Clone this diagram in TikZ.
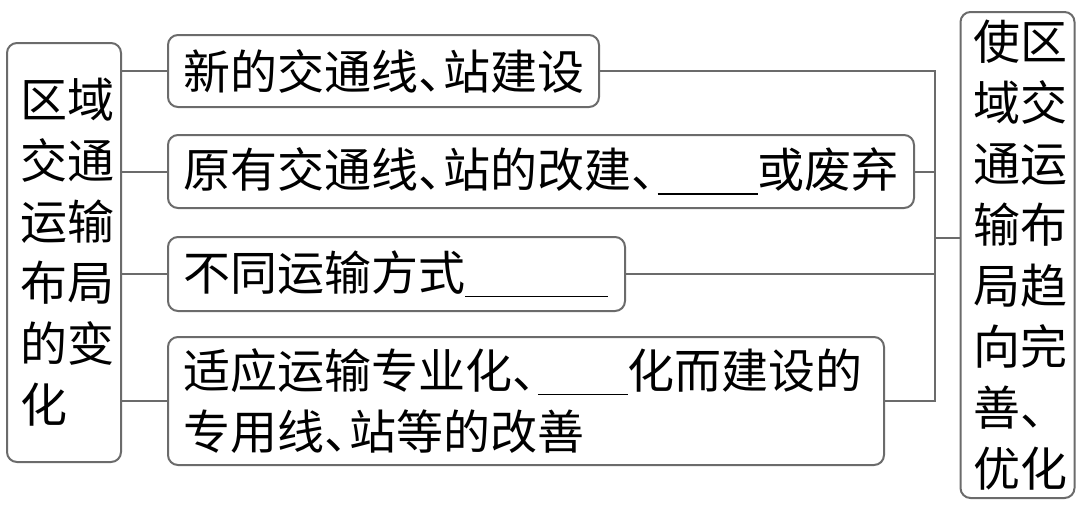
\documentclass[tikz,border=0pt]{standalone}
\usepackage{fontspec}
\setmainfont{Noto Sans CJK SC}
\definecolor{LineColor}{rgb}{0.42,0.42,0.42}
\tikzstyle{base}=[rectangle,
                   draw=LineColor,
                   line width=1pt,
                   rounded corners=5pt,
                   inner sep=0pt]
\tikzstyle{branch}=[base, anchor=west, align=left, inner xsep=7.5pt]
\tikzstyle{column}=[base, align=left, text width=44pt, inner xsep=6.5pt]
\tikzstyle{link}=[draw=LineColor, line width=1pt]
\newcommand\dunhao{\makebox[0.55em][l]{、}}
\newcommand\blank[1]{\rule[-0.15em]{#1}{0.9pt}}

\begin{document}
\begin{tikzpicture}[x=0.5pt, y=-0.5pt,
                    every node/.style={font=\fontsize{23.5pt}{30.5pt}\selectfont}]
    \useasboundingbox (0,0) rectangle (1080,504);

    \node at (  64.0, 252.5) (change)  [column, minimum height=209.5pt]
        {区域\\交通\\运输\\布局\\的变\\化};
    \node at ( 167.0,  71.0) (newline) [branch, text width=200.5pt, minimum height=36pt]
        {新的交通线\dunhao 站建设};
    \node at ( 167.0, 171.5) (rebuild) [branch, text width=358pt, minimum height=36.5pt]
        {原有交通线\dunhao 站的改建\dunhao\blank{50pt}或废弃};
    \node at ( 167.0, 274.0) (modes)   [branch, text width=213.5pt, minimum height=37pt]
        {不同运输方式\blank{71.5pt}};
    \node at ( 167.0, 401.0) (special) [branch, text width=343pt, minimum height=64pt]
        {适应运输专业化\dunhao\blank{45pt}化而建设的\\专用线\dunhao 站等的改善};
    \node at (1017.5, 255.0) (result)  [column, minimum height=243pt]
        {使区\\域交\\通运\\输布\\局趋\\向完\\善、\\优化};
    \coordinate (bus) at (935, 238);

    \draw[link] (change.east |- newline.west) -- (newline.west);
    \draw[link] (change.east |- rebuild.west) -- (rebuild.west);
    \draw[link] (change.east |- modes.west)   -- (modes.west);
    \draw[link] (change.east |- special.west) -- (special.west);
    \draw[link] (newline.east) -| (bus);
    \draw[link] (special.east) -| (bus);
    \draw[link] (rebuild.east) -- (rebuild.east -| bus);
    \draw[link] (modes.east)   -- (modes.east -| bus);
    \draw[link] (bus)          -- (bus -| result.west);
\end{tikzpicture}
\end{document}
